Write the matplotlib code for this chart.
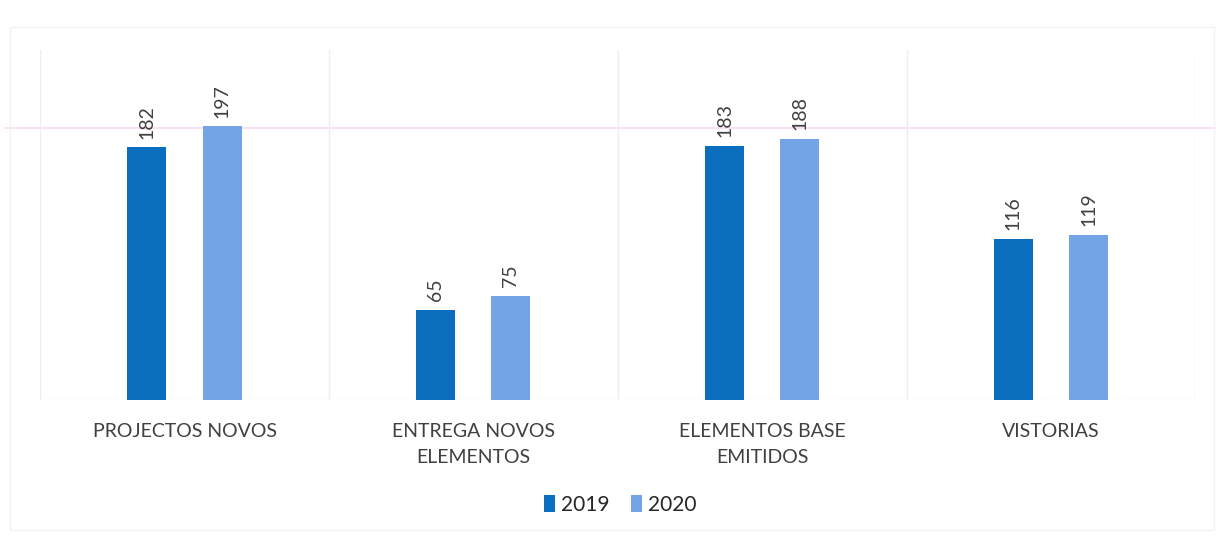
import matplotlib
matplotlib.use("Agg")
import matplotlib.pyplot as plt
from matplotlib.lines import Line2D
from matplotlib.patches import Rectangle
import numpy as np

plt.rcParams["font.family"] = ["Lato", "DejaVu Sans"]

categories = ["PROJECTOS NOVOS", "ENTREGA NOVOS\nELEMENTOS", "ELEMENTOS BASE\nEMITIDOS", "VISTORIAS"]
series_names = ["2019", "2020"]
values_2019 = [182, 65, 183, 116]
values_2020 = [197, 75, 188, 119]

COL_2019 = "#0A6DBD"
COL_2020 = "#72A4E6"
TEXT = "#404040"

fig = plt.figure(figsize=(12.16, 5.41), dpi=100)
ax = fig.add_axes([0.033, 0.261, 0.95, 0.647])
ax.patch.set_alpha(0)

x = np.arange(len(categories))
w = 0.135
off = 0.13
b1 = ax.bar(x - off, values_2019, w, color=COL_2019, label=series_names[0], zorder=3)
b2 = ax.bar(x + off, values_2020, w, color=COL_2020, label=series_names[1], zorder=3)

for bars, vals in ((b1, values_2019), (b2, values_2020)):
    for rect, v in zip(bars, vals):
        ax.annotate(str(v), (rect.get_x() + rect.get_width() / 2, v),
                    xytext=(0, 6), textcoords="offset points",
                    rotation=90, ha="center", va="bottom",
                    fontsize=14, color=TEXT)

ax.set_xlim(-0.5, len(categories) - 0.5)
ax.set_ylim(0, 252)
ax.set_yticks([])
ax.set_xticks(x)
ax.set_xticklabels(categories, fontsize=14, color=TEXT, linespacing=1.6)
ax.tick_params(axis="x", length=0, pad=17)

# light separators between the categories
for sep in np.arange(-0.5, len(categories), 1.0):
    ax.axvline(sep, color="#EEEEEE", lw=1, zorder=1)
for s in ax.spines.values():
    s.set_visible(False)
ax.axhline(0, color="#F0F0F0", lw=1, zorder=1)

# faint pink rule across the page (kept behind the plot) and the chart frame
fig.add_artist(Line2D([0.004, 1.0], [1 - 128 / 541] * 2, color="#F6DDF3",
                      lw=1.2, zorder=-1))
fig.add_artist(Rectangle((0.008, 0.02), 0.99, 0.93, transform=fig.transFigure,
                         fill=False, ec="#F3F3F3", lw=1, zorder=-1))

leg = fig.legend(handles=[b1, b2], labels=series_names, loc="center",
                 bbox_to_anchor=(0.51, 0.067), ncol=2, frameon=False,
                 fontsize=15, handlelength=0.55, handleheight=0.9,
                 handletextpad=0.3, columnspacing=1.0)
for t in leg.get_texts():
    t.set_color("#262626")

fig.savefig("out.png", dpi=100)
